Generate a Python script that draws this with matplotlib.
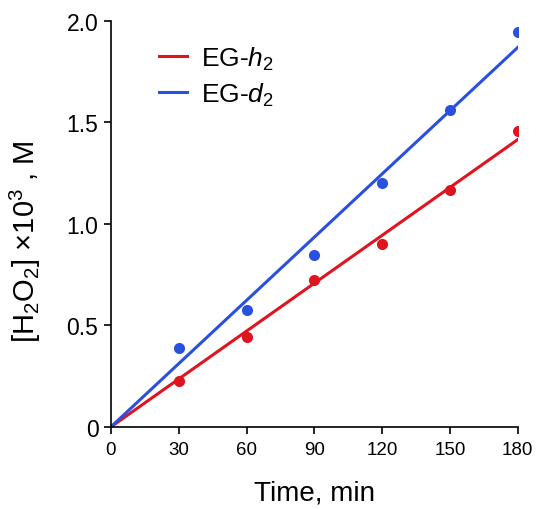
import numpy as np
import matplotlib.pyplot as plt

plt.rcParams['font.family'] = ['Liberation Sans', 'DejaVu Sans']
plt.rcParams['mathtext.fontset'] = 'custom'
plt.rcParams['mathtext.rm'] = 'Liberation Sans'
plt.rcParams['mathtext.it'] = 'Liberation Sans:italic'

# Data (time in min, [H2O2] x 10^3 in M)
time = np.array([30, 60, 90, 120, 150, 180])
h2_vals = np.array([0.227, 0.443, 0.724, 0.900, 1.167, 1.458])
d2_vals = np.array([0.389, 0.576, 0.847, 1.200, 1.560, 1.945])

red = '#e0141e'
blue = '#2a50e0'

# linear fits through the origin
def fit_slope(x, y):
    return np.sum(x * y) / np.sum(x * x)

x_fit = np.array([0, 180])

fig = plt.figure(figsize=(5.41, 5.10), dpi=100)
ax = fig.add_axes([0.205, 0.161, 0.752, 0.796])

ax.plot(x_fit, fit_slope(time, h2_vals) * x_fit, color=red, lw=2.2, label='EG-$h_2$')
ax.plot(x_fit, fit_slope(time, d2_vals) * x_fit, color=blue, lw=2.2, label='EG-$d_2$')
ax.plot(time, h2_vals, 'o', color=red, ms=8, mec='none')
ax.plot(time, d2_vals, 'o', color=blue, ms=8, mec='none')

ax.set_xlim(0, 180)
ax.set_ylim(0, 2.0)
ax.set_xticks(np.arange(0, 181, 30))
ax.set_yticks([0, 0.5, 1.0, 1.5, 2.0])
ax.set_yticklabels(['0', '0.5', '1.0', '1.5', '2.0'])

for side in ['top', 'right']:
    ax.spines[side].set_visible(False)
for side in ['left', 'bottom']:
    ax.spines[side].set_linewidth(1.2)
ax.tick_params(direction='out', length=5, width=1.2)
ax.tick_params(axis='x', labelsize=13.5, pad=5)
ax.tick_params(axis='y', labelsize=16.5, pad=4)

ax.set_xlabel('Time, min', fontsize=20)
ax.xaxis.set_label_coords(0.5, -0.13)
ax.set_ylabel('[H$_2$O$_2$] ×10$^3$ , M', fontsize=21)
ax.yaxis.set_label_coords(-0.167, 0.46)

ax.legend(loc='upper left', bbox_to_anchor=(0.06, 1.0), frameon=False,
          fontsize=19, handlelength=1.05, handletextpad=0.55, labelspacing=0.32)

fig.savefig('out.png', dpi=100)
